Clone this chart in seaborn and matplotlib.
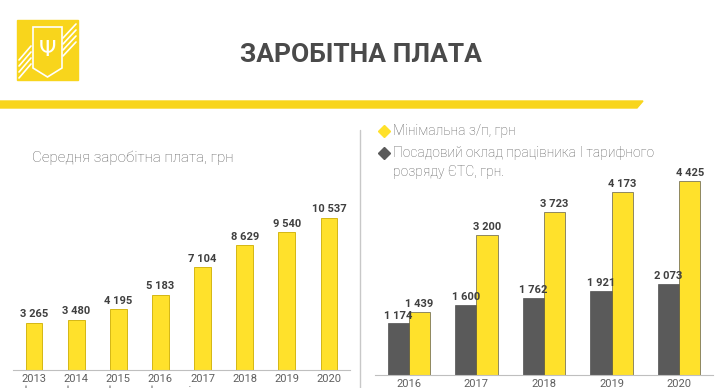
import seaborn as sns
import pandas as pd
import matplotlib.pyplot as plt
from matplotlib.patches import Polygon, Rectangle
from matplotlib.lines import Line2D

# left chart: average wage
years_left = ["2013\nфакт", "2014\nфакт", "2015\nфакт", "2016\nфакт",
              "2017\nочікуване", "2018\nпрогноз", "2019\nпрогноз", "2020\nпрогноз"]
avg_wage = [3265, 3480, 4195, 5183, 7104, 8629, 9540, 10537]

# right chart: minimum wage vs. base salary (grade I)
years_right = ["2016", "2017", "2018", "2019", "2020"]
min_wage = [1439, 3200, 3723, 4173, 4425]
base_salary = [1174, 1600, 1762, 1921, 2073]
series_names = ["Посадовий оклад працівника І тарифного розряду ЄТС, грн.",
                "Мінімальна з/п, грн"]

YELLOW = "#FFE12B"
DARK = "#5A5A5A"
GRAY_TXT = "#5F5F5F"
LBL = "#404040"


def fmt(v):
    return f"{v:,}".replace(",", " ")


def style_axis(ax, n):
    for s in ["top", "right", "left"]:
        ax.spines[s].set_visible(False)
    ax.spines["bottom"].set_color("#BFBFBF")
    ax.set_yticks([])
    ax.set_xlabel("")
    ax.set_ylabel("")
    ax.set_xticks([i - 0.5 for i in range(n + 1)], minor=True)
    ax.tick_params(axis="x", which="major", length=0, pad=3, labelsize=8, labelcolor=GRAY_TXT)
    ax.tick_params(axis="x", which="minor", length=3, color="#BFBFBF")
    ax.set_xlim(-0.5, n - 0.5)


sns.set_style("white")
plt.rcParams["font.family"] = ["Roboto", "DejaVu Sans"]

fig = plt.figure(figsize=(7.2, 3.88), dpi=100)

# header decoration
fig.patches.append(Polygon([[0, 1 - 101 / 388], [643 / 720, 1 - 101 / 388],
                            [637 / 720, 1 - 108 / 388], [0, 1 - 108 / 388]],
                           closed=True, transform=fig.transFigure, color="#F8D51C", zorder=0))
fig.patches.append(Rectangle((17 / 720, 1 - 80 / 388), 61 / 720, 60 / 388,
                             transform=fig.transFigure, color="#F8D51C", zorder=0))
for k in range(4):
    y0 = 60 + k * 6
    fig.lines.append(Line2D([19 / 720, 31 / 720], [1 - y0 / 388, 1 - (y0 - 14) / 388],
                            transform=fig.transFigure, color="white", lw=1.2))
    fig.lines.append(Line2D([63 / 720, 76 / 720], [1 - (y0 - 22) / 388, 1 - (y0 - 36) / 388],
                            transform=fig.transFigure, color="white", lw=1.2))
fig.patches.append(Polygon([[33 / 720, 1 - 27 / 388], [62 / 720, 1 - 27 / 388],
                            [62 / 720, 1 - 68 / 388], [47.5 / 720, 1 - 77 / 388],
                            [33 / 720, 1 - 68 / 388]],
                           closed=True, transform=fig.transFigure, fill=False,
                           edgecolor="white", lw=1.2))
fig.text(47.5 / 720, 1 - 50 / 388, "Ψ", color="white", fontsize=16,
         ha="center", va="center", family="DejaVu Sans")

fig.text(361 / 720, 1 - 55 / 388, "ЗАРОБІТНА ПЛАТА", ha="center", va="center",
         fontsize=19, fontweight="bold", color="#4A4A4A",
         family=["Roboto", "DejaVu Sans"])

# separator line
fig.lines.append(Line2D([360 / 720, 360 / 720], [0, 1 - 130 / 388],
                        transform=fig.transFigure, color="#C8C8C8", lw=1))

# left chart
ax1 = fig.add_axes([13 / 720, 18 / 388, 337 / 720, 173.4 / 388])
sns.barplot(x=years_left, y=avg_wage, color=YELLOW, saturation=1, width=0.4, ax=ax1,
            edgecolor="#CDAE00", linewidth=0.6)
ax1.set_ylim(0, 12000)
style_axis(ax1, len(years_left))
for i, v in enumerate(avg_wage):
    ax1.text(i, v + 250, fmt(v), ha="center", va="bottom", fontsize=8,
             fontweight="bold", color=LBL)
fig.text(32 / 720, 1 - 158 / 388, "Середня заробітна плата, грн", ha="left",
         va="center", fontsize=11, color=GRAY_TXT, fontweight="light")

# right chart
df = pd.DataFrame({
    "year": years_right * 2,
    "value": base_salary + min_wage,
    "series": [series_names[0]] * len(years_right) + [series_names[1]] * len(years_right),
})
ax2 = fig.add_axes([375 / 720, 13 / 388, 338 / 720, 210.7 / 388])
sns.barplot(data=df, x="year", y="value", hue="series", hue_order=series_names,
            palette=[DARK, YELLOW], saturation=1, width=0.63, gap=0, legend=False, ax=ax2,
            edgecolor="#3A3A3A", linewidth=0.4)
ax2.set_ylim(0, 4800)
style_axis(ax2, len(years_right))
for cont in ax2.containers:
    for bar in cont:
        h = bar.get_height()
        ax2.text(bar.get_x() + bar.get_width() / 2, h + 60, fmt(int(round(h))),
                 ha="center", va="bottom", fontsize=8, fontweight="bold",
                 color=LBL)

# legend
fig.lines.append(Line2D([384 / 720], [1 - 131 / 388], marker="D", markersize=6,
                        color=YELLOW, transform=fig.transFigure, linestyle="none"))
fig.text(393 / 720, 1 - 131 / 388, "Мінімальна з/п, грн", ha="left", va="center",
         fontsize=10, color=GRAY_TXT, fontweight="light")
fig.lines.append(Line2D([384 / 720], [1 - 153 / 388], marker="D", markersize=6,
                        color=DARK, transform=fig.transFigure, linestyle="none"))
fig.text(393 / 720, 1 - 153 / 388, "Посадовий оклад працівника І тарифного",
         ha="left", va="center", fontsize=10, color=GRAY_TXT, fontweight="light")
fig.text(393 / 720, 1 - 172 / 388, "розряду ЄТС, грн.", ha="left", va="center",
         fontsize=10, color=GRAY_TXT, fontweight="light")

fig.savefig("out.png", dpi=100)
